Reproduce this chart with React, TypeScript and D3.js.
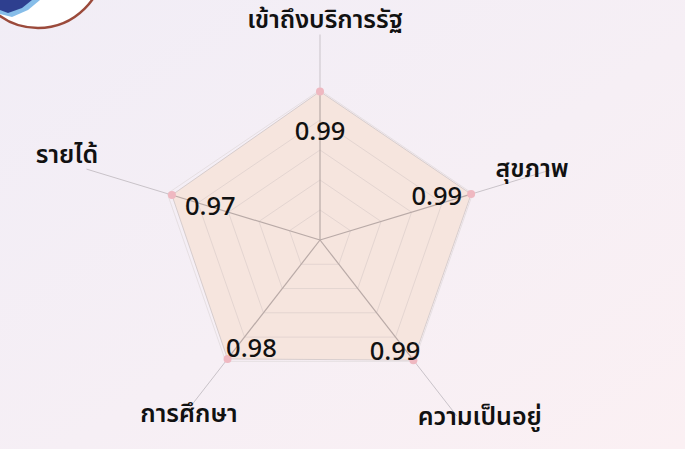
import * as d3 from 'd3'

// ── Data ─────────────────────────────────────────────────────────────────────
const categories = ['เข้าถึงบริการรัฐ', 'สุขภาพ', 'ความเป็นอยู่', 'การศึกษา', 'รายได้']
const values = [0.99, 0.99, 0.99, 0.98, 0.97]
const gridLevels = [0.2, 0.4, 0.6, 0.8, 1.0]

// ── Layout ───────────────────────────────────────────────────────────────────
const W = 685
const H = 449
const CX = 320
const CY = 240
const R = 150
const SX = 1.07 // the picture is a little wider than it is tall
const FONT = "'Noto Sans Thai', 'Noto Sans', 'Leelawadee UI', Tahoma, sans-serif"

// leader line length (in radius units) and label offsets from its end
const LEADER = [1.37, 1.51, 1.45, 1.5, 1.53]
const LABEL_OFFSET: [number, number][] = [[5, -6.5], [-18.5, 7], [23, 9], [10.5, 0], [-19.5, -6]]
// value label: offset from vertex + anchor
const VALUE_OFFSET: [number, number, string][] = [
  [0, 48, 'middle'], [-9, 11, 'end'], [7, 0, 'end'], [-1.5, -2, 'start'], [13, 20, 'start'],
]

export default function App() {
  const angle = d3.scaleBand<string>().domain(categories).range([0, 2 * Math.PI])
  const r = d3.scaleLinear([0, 1], [0, R])

  const pt = (cat: string, v: number): [number, number] => {
    const a = angle(cat)!
    return [CX + SX * r(v) * Math.sin(a), CY - r(v) * Math.cos(a)]
  }

  const line = d3.line<[number, number]>().curve(d3.curveLinearClosed)
  const dataPts = categories.map((c, i) => pt(c, values[i]))

  return (
    <div style={{ position: 'fixed', left: 0, top: 0, width: W, height: H }}>
      <svg width={W} height={H} style={{ display: 'block' }} fontFamily={FONT}>
        <defs>
          <linearGradient id="bg" x1="0" y1="0" x2="1" y2="1">
            <stop offset="0%" stopColor="#f1edf6" />
            <stop offset="55%" stopColor="#f6eff5" />
            <stop offset="100%" stopColor="#fbf0f3" />
          </linearGradient>
        </defs>
        <rect width={W} height={H} fill="url(#bg)" />

        {/* logo fragment */}
        <circle cx={38} cy={-38} r={66} fill="#ffffff" stroke="#9b4a3b" strokeWidth={2.5} />
        <path d="M0,0 L40,0 L28,10 L12,17 L0,14 Z" fill="#86bde9" />
        <path d="M0,0 L32,0 L22,8 L8,13 L0,10 Z" fill="#2e3f8f" />

        {/* data area (under grid) */}
        <path d={line(dataPts)!} fill="#f6e5de" stroke="#d7cdcd" strokeWidth={1} />

        {/* grid */}
        {gridLevels.map(l => (
          <path key={l} d={line(categories.map(c => pt(c, l)))!} fill="none"
            stroke={l === 1 ? '#e6dfe2' : '#e4d5d1'} strokeWidth={1} />
        ))}

        {/* axes + leader lines */}
        {categories.map((c, i) => {
          const [x0, y0] = pt(c, 0)
          const [x1, y1] = pt(c, values[i])
          const [x2, y2] = pt(c, LEADER[i])
          return (
            <g key={c}>
              <line x1={x0} y1={y0} x2={x1} y2={y1} stroke="#b9aaa7" strokeWidth={1.2} />
              <line x1={x1} y1={y1} x2={x2} y2={y2} stroke="#c9c3c9" strokeWidth={1} />
            </g>
          )
        })}

        {/* points */}
        {dataPts.map((p, i) => (
          <circle key={i} cx={p[0]} cy={p[1]} r={4} fill="#efb8c1" />
        ))}

        {/* value labels */}
        {dataPts.map((p, i) => (
          <text key={i} x={p[0] + VALUE_OFFSET[i][0]} y={p[1] + VALUE_OFFSET[i][1]}
            textAnchor={VALUE_OFFSET[i][2]} fontSize={25.5} fontWeight={500} fill="#111">
            {values[i].toFixed(2)}
          </text>
        ))}

        {/* category labels */}
        {categories.map((c, i) => {
          const [x, y] = pt(c, LEADER[i])
          return (
            <text key={c} x={x + LABEL_OFFSET[i][0]} y={y + LABEL_OFFSET[i][1]}
              textAnchor="middle" fontSize={25} fontWeight={600} fill="#111">
              {c}
            </text>
          )
        })}
      </svg>
    </div>
  )
}
